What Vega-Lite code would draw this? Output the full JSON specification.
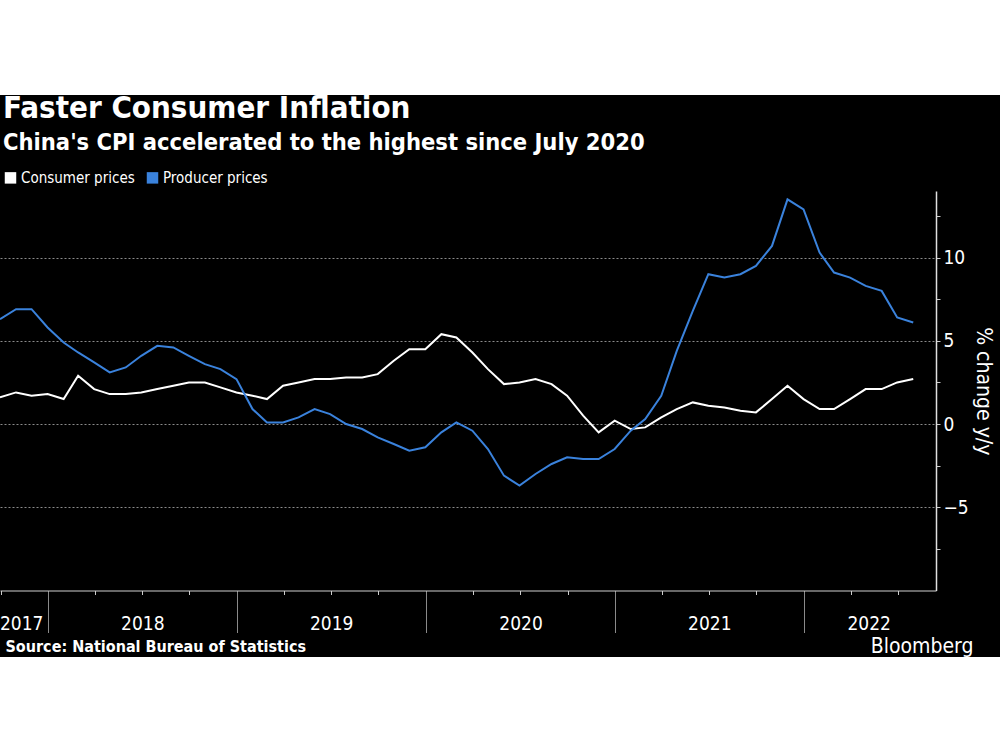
{
  "$schema": "https://vega.github.io/schema/vega-lite/v6.json",
  "width": 1000,
  "height": 562,
  "autosize": {"type": "none"},
  "padding": {"top": 95, "left": 0, "right": 0, "bottom": 93},
  "background": "white",
  "config": {
    "view": {"stroke": null, "fill": "#000000"},
    "font": "DejaVu Sans Condensed, DejaVu Sans, Roboto",
    "axis": {"labelColor": "#ffffff", "titleColor": "#ffffff", "labelFont": "DejaVu Sans Condensed, DejaVu Sans, Roboto", "titleFont": "DejaVu Sans Condensed, DejaVu Sans, Roboto"}
  },
  "title": {
    "text": "Faster Consumer Inflation",
    "subtitle": "China's CPI accelerated to the highest since July 2020",
    "anchor": "start",
    "frame": "group",
    "orient": "top",
    "offset": -60,
    "dx": 3,
    "font": "DejaVu Sans Condensed, DejaVu Sans, Roboto",
    "subtitleFont": "DejaVu Sans Condensed, DejaVu Sans, Roboto",
    "fontSize": 31,
    "subtitleFontSize": 23.5,
    "fontWeight": "bold",
    "subtitleFontWeight": "bold",
    "color": "#ffffff",
    "subtitleColor": "#ffffff",
    "subtitlePadding": 6
  },
  "data": {
    "values": [
      {"date": "2017-09-30", "Consumer prices": 1.6, "Producer prices": 6.3},
      {"date": "2017-10-31", "Consumer prices": 1.9, "Producer prices": 6.9},
      {"date": "2017-11-30", "Consumer prices": 1.7, "Producer prices": 6.9},
      {"date": "2017-12-31", "Consumer prices": 1.8, "Producer prices": 5.8},
      {"date": "2018-01-31", "Consumer prices": 1.5, "Producer prices": 4.9},
      {"date": "2018-02-28", "Consumer prices": 2.9, "Producer prices": 4.3},
      {"date": "2018-03-31", "Consumer prices": 2.1, "Producer prices": 3.7},
      {"date": "2018-04-30", "Consumer prices": 1.8, "Producer prices": 3.1},
      {"date": "2018-05-31", "Consumer prices": 1.8, "Producer prices": 3.4},
      {"date": "2018-06-30", "Consumer prices": 1.9, "Producer prices": 4.1},
      {"date": "2018-07-31", "Consumer prices": 2.1, "Producer prices": 4.7},
      {"date": "2018-08-31", "Consumer prices": 2.3, "Producer prices": 4.6},
      {"date": "2018-09-30", "Consumer prices": 2.5, "Producer prices": 4.1},
      {"date": "2018-10-31", "Consumer prices": 2.5, "Producer prices": 3.6},
      {"date": "2018-11-30", "Consumer prices": 2.2, "Producer prices": 3.3},
      {"date": "2018-12-31", "Consumer prices": 1.9, "Producer prices": 2.7},
      {"date": "2019-01-31", "Consumer prices": 1.7, "Producer prices": 0.9},
      {"date": "2019-02-28", "Consumer prices": 1.5, "Producer prices": 0.1},
      {"date": "2019-03-31", "Consumer prices": 2.3, "Producer prices": 0.1},
      {"date": "2019-04-30", "Consumer prices": 2.5, "Producer prices": 0.4},
      {"date": "2019-05-31", "Consumer prices": 2.7, "Producer prices": 0.9},
      {"date": "2019-06-30", "Consumer prices": 2.7, "Producer prices": 0.6},
      {"date": "2019-07-31", "Consumer prices": 2.8, "Producer prices": 0.0},
      {"date": "2019-08-31", "Consumer prices": 2.8, "Producer prices": -0.3},
      {"date": "2019-09-30", "Consumer prices": 3.0, "Producer prices": -0.8},
      {"date": "2019-10-31", "Consumer prices": 3.8, "Producer prices": -1.2},
      {"date": "2019-11-30", "Consumer prices": 4.5, "Producer prices": -1.6},
      {"date": "2019-12-31", "Consumer prices": 4.5, "Producer prices": -1.4},
      {"date": "2020-01-31", "Consumer prices": 5.4, "Producer prices": -0.5},
      {"date": "2020-02-29", "Consumer prices": 5.2, "Producer prices": 0.1},
      {"date": "2020-03-31", "Consumer prices": 4.3, "Producer prices": -0.4},
      {"date": "2020-04-30", "Consumer prices": 3.3, "Producer prices": -1.5},
      {"date": "2020-05-31", "Consumer prices": 2.4, "Producer prices": -3.1},
      {"date": "2020-06-30", "Consumer prices": 2.5, "Producer prices": -3.7},
      {"date": "2020-07-31", "Consumer prices": 2.7, "Producer prices": -3.0},
      {"date": "2020-08-31", "Consumer prices": 2.4, "Producer prices": -2.4},
      {"date": "2020-09-30", "Consumer prices": 1.7, "Producer prices": -2.0},
      {"date": "2020-10-31", "Consumer prices": 0.5, "Producer prices": -2.1},
      {"date": "2020-11-30", "Consumer prices": -0.5, "Producer prices": -2.1},
      {"date": "2020-12-31", "Consumer prices": 0.2, "Producer prices": -1.5},
      {"date": "2021-01-31", "Consumer prices": -0.3, "Producer prices": -0.4},
      {"date": "2021-02-28", "Consumer prices": -0.2, "Producer prices": 0.3},
      {"date": "2021-03-31", "Consumer prices": 0.4, "Producer prices": 1.7},
      {"date": "2021-04-30", "Consumer prices": 0.9, "Producer prices": 4.4},
      {"date": "2021-05-31", "Consumer prices": 1.3, "Producer prices": 6.8},
      {"date": "2021-06-30", "Consumer prices": 1.1, "Producer prices": 9.0},
      {"date": "2021-07-31", "Consumer prices": 1.0, "Producer prices": 8.8},
      {"date": "2021-08-31", "Consumer prices": 0.8, "Producer prices": 9.0},
      {"date": "2021-09-30", "Consumer prices": 0.7, "Producer prices": 9.5},
      {"date": "2021-10-31", "Consumer prices": 1.5, "Producer prices": 10.7},
      {"date": "2021-11-30", "Consumer prices": 2.3, "Producer prices": 13.5},
      {"date": "2021-12-31", "Consumer prices": 1.5, "Producer prices": 12.9},
      {"date": "2022-01-31", "Consumer prices": 0.9, "Producer prices": 10.3},
      {"date": "2022-02-28", "Consumer prices": 0.9, "Producer prices": 9.1},
      {"date": "2022-03-31", "Consumer prices": 1.5, "Producer prices": 8.8},
      {"date": "2022-04-30", "Consumer prices": 2.1, "Producer prices": 8.3},
      {"date": "2022-05-31", "Consumer prices": 2.1, "Producer prices": 8.0},
      {"date": "2022-06-30", "Consumer prices": 2.5, "Producer prices": 6.4},
      {"date": "2022-07-31", "Consumer prices": 2.7, "Producer prices": 6.1}
    ]
  },
  "transform": [
    {"fold": ["Consumer prices", "Producer prices"], "as": ["series", "value"]}
  ],
  "layer": [
    {
      "mark": {"type": "line", "strokeWidth": 2},
      "encoding": {
        "x": {
          "field": "date",
          "type": "temporal",
          "scale": {
            "type": "utc",
            "domain": [
              {"year": 2017, "month": 9, "date": 30, "utc": true},
              {"year": 2022, "month": 9, "date": 13, "utc": true}
            ],
            "range": [0, 936]
          },
          "axis": {
            "orient": "bottom",
            "offset": -66.5,
            "values": [
              {"year": 2017, "month": 10, "date": 1, "utc": true},
              {"year": 2018, "month": 1, "date": 1, "utc": true},
              {"year": 2018, "month": 4, "date": 1, "utc": true},
              {"year": 2018, "month": 7, "date": 1, "utc": true},
              {"year": 2018, "month": 10, "date": 1, "utc": true},
              {"year": 2019, "month": 1, "date": 1, "utc": true},
              {"year": 2019, "month": 4, "date": 1, "utc": true},
              {"year": 2019, "month": 7, "date": 1, "utc": true},
              {"year": 2019, "month": 10, "date": 1, "utc": true},
              {"year": 2020, "month": 1, "date": 1, "utc": true},
              {"year": 2020, "month": 4, "date": 1, "utc": true},
              {"year": 2020, "month": 7, "date": 1, "utc": true},
              {"year": 2020, "month": 10, "date": 1, "utc": true},
              {"year": 2021, "month": 1, "date": 1, "utc": true},
              {"year": 2021, "month": 4, "date": 1, "utc": true},
              {"year": 2021, "month": 7, "date": 1, "utc": true},
              {"year": 2021, "month": 10, "date": 1, "utc": true},
              {"year": 2022, "month": 1, "date": 1, "utc": true},
              {"year": 2022, "month": 4, "date": 1, "utc": true},
              {"year": 2022, "month": 7, "date": 1, "utc": true}
            ],
            "labels": false,
            "grid": false,
            "domainColor": "#d0d0d0",
            "domainWidth": 1,
            "tickSize": {"condition": {"test": "utcmonth(datum.value) === 0", "value": 42}, "value": 4},
            "tickColor": {"condition": {"test": "utcmonth(datum.value) === 0", "value": "#8a8a8a"}, "value": "#cccccc"},
            "tickWidth": 1,
            "title": "Source: National Bureau of Statistics",
            "titleAnchor": "start",
            "titleAlign": "left",
            "titleBaseline": "alphabetic",
            "titleX": 5,
            "titleY": 61,
            "titleFontSize": 16,
            "titleFontWeight": "bold"
          }
        },
        "y": {
          "field": "value",
          "type": "quantitative",
          "scale": {"domain": [-10, 14], "range": [495.5, 96], "nice": false, "zero": false},
          "axis": {
            "orient": "right",
            "offset": -64,
            "values": [-7.5, -5, -2.5, 0, 2.5, 5, 7.5, 10, 12.5],
            "labelExpr": "datum.value % 5 === 0 ? datum.label : ''",
            "format": "d",
            "grid": false,
            "domainColor": "#e0e0e0",
            "domainWidth": 1.5,
            "tickColor": "#cccccc",
            "tickSize": 4,
            "labelFontSize": 19,
            "labelPadding": 3,
            "labelBaseline": "middle",
            "title": "% change y/y",
            "titleAngle": 90,
            "titleFontSize": 21,
            "titleFontWeight": "normal",
            "titleX": 46,
            "titleBaseline": "middle"
          }
        },
        "color": {
          "field": "series",
          "type": "nominal",
          "scale": {"domain": ["Consumer prices", "Producer prices"], "range": ["#ffffff", "#3a82dc"]},
          "legend": {
            "orient": "none",
            "legendX": 3,
            "legendY": 75,
            "direction": "horizontal",
            "title": null,
            "symbolType": "square",
            "symbolSize": 30,
            "symbolStrokeWidth": 6,
            "labelFontSize": 15,
            "labelColor": "#ffffff",
            "labelFont": "DejaVu Sans Condensed, DejaVu Sans, Roboto",
            "labelOffset": 3,
            "columnPadding": 2
          }
        }
      }
    },
    {
      "mark": {"type": "line", "strokeOpacity": 0},
      "encoding": {
        "x": {
          "field": "date",
          "type": "temporal",
          "axis": {
            "orient": "bottom",
            "offset": -66.5,
            "values": [
              {"year": 2017, "month": 11, "date": 10, "utc": true},
              {"year": 2018, "month": 7, "date": 2, "utc": true},
              {"year": 2019, "month": 7, "date": 2, "utc": true},
              {"year": 2020, "month": 7, "date": 2, "utc": true},
              {"year": 2021, "month": 7, "date": 2, "utc": true},
              {"year": 2022, "month": 5, "date": 6, "utc": true}
            ],
            "format": "%Y",
            "ticks": false,
            "domain": false,
            "grid": false,
            "labelFontSize": 19,
            "labelPadding": 24,
            "labelFlush": false,
            "labelOverlap": false,
            "labelColor": "#ffffff",
            "title": "Bloomberg",
            "titleAnchor": "end",
            "titleAlign": "right",
            "titleBaseline": "alphabetic",
            "titleX": 973,
            "titleY": 62,
            "titleFontSize": 21,
            "titleFontWeight": "normal"
          }
        },
        "y": {
          "field": "value",
          "type": "quantitative",
          "axis": {
            "orient": "left",
            "values": [-5, 0, 5, 10],
            "grid": true,
            "gridColor": "#8a8a8a",
            "gridDash": [2, 2],
            "gridWidth": 1,
            "labels": false,
            "ticks": false,
            "domain": false,
            "title": null
          }
        },
        "detail": {"field": "series", "type": "nominal"}
      }
    }
  ],
  "resolve": {"axis": {"x": "independent", "y": "independent"}}
}
